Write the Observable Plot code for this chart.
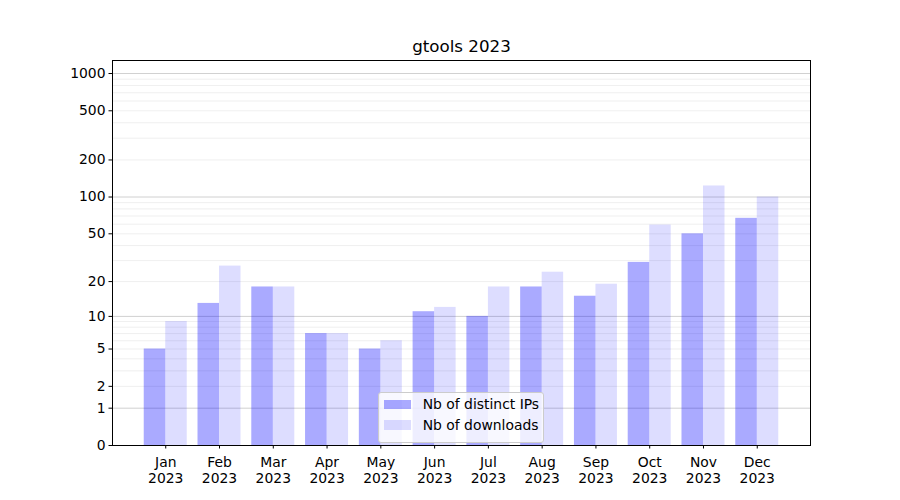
<!DOCTYPE html>
<html>
<head>
<meta charset="utf-8">
<script src="https://cdn.jsdelivr.net/npm/d3@7"></script>
<script src="https://cdn.jsdelivr.net/npm/@observablehq/plot@0.6"></script>
<style>
  html, body { margin: 0; padding: 0; background: #fff; }
  #wrap { position: relative; width: 900px; height: 500px; font-family: "DejaVu Sans", sans-serif; }
  #legend {
    position: absolute; left: 378px; top: 392px; width: 166px; height: 51px;
    box-sizing: border-box; background: rgba(255,255,255,0.8);
    border: 1px solid #cccccc; border-radius: 3px;
    font: 13.9px "DejaVu Sans", sans-serif; color: #000;
    padding: 1px 0 0 5px; white-space: nowrap;
  }
  #legend .row { display: flex; align-items: center; height: 20.7px; }
  #legend .sw { display: inline-block; width: 26.7px; height: 9.5px; margin-right: 12px; flex: none; }
</style>
</head>
<body>
<div id="wrap"></div>
<script>
const title = "gtools 2023";
const months = ["Jan","Feb","Mar","Apr","May","Jun","Jul","Aug","Sep","Oct","Nov","Dec"];
const years = ["2023","2023","2023","2023","2023","2023","2023","2023","2023","2023","2023","2023"];
const seriesNames = ["Nb of distinct IPs", "Nb of downloads"];
const distinctIPs = [5, 13, 18, 7, 5, 11, 10, 18, 15, 29, 50, 67];
const downloads   = [9, 27, 18, 7, 6, 12, 18, 24, 19, 59, 123, 100];
const yTicks = [0, 1, 2, 5, 10, 20, 50, 100, 200, 500, 1000];
const yMajorGrid = [1, 10, 100, 1000];
const yMinorGrid = [2,3,4,5,6,7,8,9,20,30,40,50,60,70,80,90,200,300,400,500,600,700,800,900];
const seriesColors = ["rgba(0,0,255,0.333)", "rgba(0,0,255,0.133)"];

const idx = months.map((_, i) => i);
const data = idx.map(i => ({i, month: months[i], ips: distinctIPs[i], dl: downloads[i]}));

const chart = Plot.plot({
  width: 900,
  height: 500,
  marginLeft: 112,
  marginRight: 90,
  marginTop: 60,
  marginBottom: 55,
  style: {fontFamily: "DejaVu Sans, sans-serif", fontSize: "13.9px", color: "#000", background: "#fff"},
  x: {type: "linear", domain: [-0.99, 11.99], label: null},
  y: {type: "symlog", constant: 1, domain: [0, 1274], label: null},
  marks: [
    Plot.ruleY(yMinorGrid, {stroke: "#ebebeb", strokeWidth: 0.8}),
    Plot.ruleY(yMajorGrid, {stroke: "#c4c4c4", strokeWidth: 0.8}),
    Plot.rect(data, {x1: d => d.i - 0.4, x2: d => d.i, y1: 0, y2: "ips", fill: seriesColors[0]}),
    Plot.rect(data, {x1: d => d.i, x2: d => d.i + 0.4, y1: 0, y2: "dl", fill: seriesColors[1]}),
    Plot.frame({stroke: "#000", strokeWidth: 1}),
    Plot.axisY({ticks: yTicks, tickFormat: d => String(d), tickSize: 3.5, tickPadding: 3.5, fontSize: 13.9, label: null, stroke: "#000"}),
    Plot.axisX({ticks: idx, tickFormat: i => months[i] + "\n" + years[i], tickSize: 3.5, tickPadding: 7.5, fontSize: 13.9, lineHeight: 1.1, label: null, stroke: "#000"}),
    Plot.text([title], {frameAnchor: "top", lineAnchor: "middle", dy: -14, fontSize: 16.7, fill: "#000"})
  ]
});

const wrap = document.getElementById("wrap");
wrap.appendChild(chart);

const legend = document.createElement("div");
legend.id = "legend";
seriesNames.forEach((name, k) => {
  const row = document.createElement("div");
  row.className = "row";
  const sw = document.createElement("span");
  sw.className = "sw";
  sw.style.background = seriesColors[k];
  const label = document.createElement("span");
  label.textContent = name;
  row.appendChild(sw);
  row.appendChild(label);
  legend.appendChild(row);
});
wrap.appendChild(legend);
</script>
</body>
</html>
